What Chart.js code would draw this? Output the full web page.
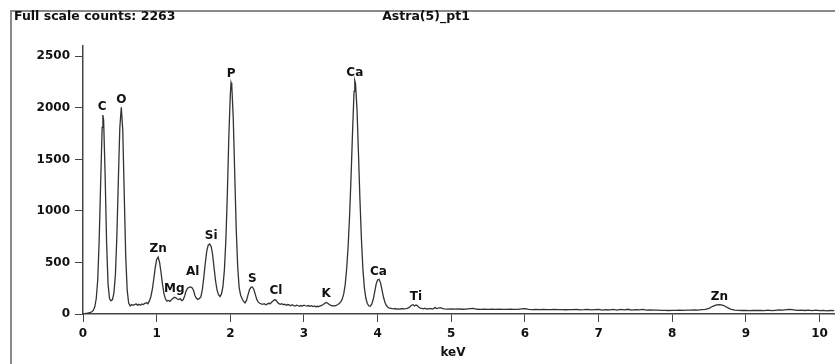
<!DOCTYPE html>
<html>
<head>
<meta charset="utf-8">
<script src="https://cdn.jsdelivr.net/npm/chart.js@4.4.1/dist/chart.umd.min.js"></script>
<style>
  html, body { margin: 0; padding: 0; background: #ffffff; }
  #wrap { position: relative; width: 835px; height: 364px; overflow: hidden; }
</style>
</head>
<body>
<div id="wrap"><canvas id="c" width="835" height="364"></canvas></div>
<script>
// ---- data ----
const headerLeft = 'Full scale counts: 2263';
const headerTitle = 'Astra(5)_pt1';
const xAxisTitle = 'keV';

const xTickValues = [0, 1, 2, 3, 4, 5, 6, 7, 8, 9, 10];
const yTickValues = [0, 500, 1000, 1500, 2000, 2500];

const energies = [
  0.00,0.02,0.04,0.06,0.08,0.10,0.12,0.14,0.16,0.18,
  0.20,0.22,0.24,0.26,0.27,0.28,0.30,0.32,0.34,0.36,
  0.38,0.40,0.42,0.44,0.46,0.48,0.50,0.52,0.54,0.56,
  0.58,0.60,0.62,0.64,0.66,0.68,0.70,0.72,0.74,0.76,
  0.78,0.80,0.82,0.84,0.86,0.88,0.90,0.92,0.94,0.96,
  0.98,1.00,1.02,1.04,1.06,1.08,1.10,1.12,1.14,1.16,
  1.18,1.20,1.22,1.24,1.26,1.28,1.30,1.32,1.34,1.36,
  1.38,1.40,1.42,1.44,1.46,1.48,1.50,1.52,1.54,1.56,
  1.58,1.60,1.62,1.64,1.66,1.68,1.70,1.72,1.74,1.76,
  1.78,1.80,1.82,1.84,1.86,1.88,1.90,1.92,1.94,1.96,
  1.98,2.00,2.01,2.02,2.04,2.06,2.08,2.10,2.12,2.14,
  2.16,2.18,2.20,2.22,2.24,2.26,2.28,2.30,2.32,2.34,
  2.36,2.38,2.40,2.42,2.44,2.46,2.48,2.50,2.52,2.54,
  2.56,2.58,2.60,2.62,2.64,2.66,2.68,2.70,2.72,2.74,
  2.76,2.78,2.80,2.82,2.84,2.86,2.88,2.90,2.92,2.94,
  2.96,2.98,3.00,3.02,3.04,3.06,3.08,3.10,3.12,3.14,
  3.16,3.18,3.20,3.22,3.24,3.26,3.28,3.30,3.32,3.34,
  3.36,3.38,3.40,3.42,3.44,3.46,3.48,3.50,3.52,3.54,
  3.56,3.58,3.60,3.62,3.64,3.66,3.68,3.69,3.70,3.72,
  3.74,3.76,3.78,3.80,3.82,3.84,3.86,3.88,3.90,3.92,
  3.94,3.96,3.98,4.00,4.02,4.04,4.06,4.08,4.10,4.12,
  4.14,4.16,4.18,4.20,4.22,4.24,4.26,4.28,4.30,4.32,
  4.34,4.36,4.38,4.40,4.42,4.44,4.46,4.48,4.50,4.52,
  4.54,4.56,4.58,4.60,4.62,4.64,4.66,4.68,4.70,4.72,
  4.74,4.76,4.78,4.80,4.85,4.90,4.95,5.00,5.05,5.10,
  5.15,5.20,5.25,5.30,5.35,5.40,5.45,5.50,5.55,5.60,
  5.65,5.70,5.75,5.80,5.85,5.90,5.95,6.00,6.05,6.10,
  6.15,6.20,6.25,6.30,6.35,6.40,6.45,6.50,6.55,6.60,
  6.65,6.70,6.75,6.80,6.85,6.90,6.95,7.00,7.05,7.10,
  7.15,7.20,7.25,7.30,7.35,7.40,7.45,7.50,7.55,7.60,
  7.65,7.70,7.75,7.80,7.85,7.90,7.95,8.00,8.05,8.10,
  8.15,8.20,8.25,8.30,8.35,8.40,8.45,8.50,8.55,8.60,
  8.65,8.70,8.75,8.80,8.85,8.90,8.95,9.00,9.05,9.10,
  9.15,9.20,9.25,9.30,9.35,9.40,9.45,9.50,9.55,9.60,
  9.65,9.70,9.75,9.80,9.85,9.90,9.95,10.00,10.05,10.10,
  10.15,10.20
];

const counts = [
  3,4,6,8,12,15,22,35,70,150,
  330,720,1280,1810,1930,1880,1360,700,290,150,
  128,140,205,380,760,1300,1810,2005,1780,1160,
  560,230,105,78,92,84,90,98,86,94,
  85,98,92,104,110,100,125,165,235,335,
  445,530,552,500,400,285,195,145,125,132,
  122,138,150,162,158,145,140,150,130,138,
  175,225,250,258,262,255,230,180,152,142,
  150,165,235,355,490,610,668,680,655,575,
  445,320,232,188,170,195,265,430,720,1170,
  1720,2130,2244,2215,1900,1360,830,460,255,182,
  150,122,108,132,185,235,258,262,238,188,
  140,115,104,98,94,100,90,96,104,100,
  114,126,138,134,114,100,94,100,90,95,
  85,92,88,80,90,82,78,85,80,75,
  82,78,85,80,76,82,75,80,72,78,
  70,75,72,78,84,92,102,112,106,94,
  85,80,78,80,84,92,102,118,145,195,
  285,440,660,960,1340,1770,2160,2263,2235,1990,
  1560,1110,730,440,255,155,102,80,76,96,
  140,212,290,330,336,302,232,162,112,82,
  66,58,55,52,50,53,48,50,48,51,
  53,50,52,55,60,70,85,90,78,88,
  82,65,58,55,50,56,48,52,50,55,
  48,52,64,52,62,50,48,50,47,50,
  46,48,52,55,46,45,47,45,46,44,
  46,45,44,46,45,44,50,52,44,43,
  45,42,44,43,42,44,42,43,41,43,
  42,44,40,42,45,40,42,44,38,42,
  40,45,38,44,40,46,38,42,40,45,
  38,40,37,38,35,36,34,35,36,38,
  36,38,37,40,38,42,45,55,75,88,
  90,82,62,45,38,36,34,36,33,35,
  34,36,33,38,32,36,40,38,42,44,
  40,36,38,34,37,33,38,32,35,30,
  34,32
];

// element peak labels: name, energy (keV), label height (counts)
const peakNames    = ['C', 'O', 'Zn', 'Mg', 'Al', 'Si', 'P', 'S', 'Cl', 'K', 'Ca', 'Ca', 'Ti', 'Zn'];
const peakEnergies = [0.26, 0.52, 1.02, 1.24, 1.49, 1.74, 2.01, 2.30, 2.62, 3.30, 3.69, 4.01, 4.52, 8.64];
const peakLabelCounts = [2005, 2075, 630, 240, 405, 760, 2330, 345, 220, 200, 2340, 410, 165, 165];

// ---- chart ----
const FONT = 'DejaVu Sans';
const boldFont = { family: FONT, size: 12, weight: 'bold' };

const framePlugin = {
  id: 'frame',
  beforeDraw(chart) {
    const ctx = chart.ctx;
    ctx.save();
    ctx.fillStyle = '#ffffff';
    ctx.fillRect(0, 0, chart.width, chart.height);
    ctx.strokeStyle = '#8a8a8a';
    ctx.lineWidth = 2;
    ctx.beginPath();
    ctx.moveTo(11, chart.height + 2);
    ctx.lineTo(11, 11);
    ctx.lineTo(chart.width + 2, 11);
    ctx.stroke();
    ctx.restore();
  },
  afterDraw(chart) {
    const ctx = chart.ctx;
    const xs = chart.scales.x, ys = chart.scales.y;
    ctx.save();
    ctx.fillStyle = '#111111';
    ctx.textBaseline = 'middle';
    ctx.font = 'bold 12.5px "' + FONT + '"';
    ctx.textAlign = 'left';
    ctx.fillText(headerLeft, 14, 17);
    ctx.textAlign = 'center';
    ctx.fillText(headerTitle, 426, 17);
    ctx.font = 'bold 12px "' + FONT + '"';
    ctx.fillText(xAxisTitle, 453, 353);
    for (let i = 0; i < peakNames.length; i++) {
      const px = xs.getPixelForValue(peakEnergies[i]);
      const py = ys.getPixelForValue(peakLabelCounts[i]);
      ctx.fillText(peakNames[i], px, py);
    }
    ctx.restore();
  }
};

new Chart(document.getElementById('c'), {
  type: 'line',
  data: {
    datasets: [{
      data: energies.map((e, i) => ({ x: e, y: counts[i] })),
      borderColor: '#333333',
      borderWidth: 1.3,
      pointRadius: 0,
      tension: 0,
      fill: false
    }]
  },
  options: {
    responsive: false,
    animation: false,
    events: [],
    layout: { padding: { top: 46, right: 0, bottom: 0, left: 0 } },
    plugins: { legend: { display: false }, tooltip: { enabled: false }, title: { display: false } },
    scales: {
      x: {
        type: 'linear',
        min: 0,
        max: 10.21,
        afterBuildTicks: s => { s.ticks = xTickValues.map(v => ({ value: v })); },
        afterFit: s => { s.height = 50; },
        grid: { drawOnChartArea: false, drawTicks: true, tickLength: 8, color: '#444444', lineWidth: 1 },
        border: { display: true, color: '#444444', width: 1.5 },
        ticks: { font: boldFont, color: '#111111', padding: 5, maxRotation: 0, autoSkip: false, callback: v => String(v) },
        title: { display: false }
      },
      y: {
        min: 0,
        max: 2600,
        afterBuildTicks: s => { s.ticks = yTickValues.map(v => ({ value: v })); },
        afterFit: s => { s.width = 83; },
        grid: { drawOnChartArea: false, drawTicks: true, tickLength: 8, color: '#444444', lineWidth: 1 },
        border: { display: true, color: '#444444', width: 1.5 },
        ticks: { font: boldFont, color: '#111111', padding: 5, autoSkip: false, callback: v => String(v) }
      }
    }
  },
  plugins: [framePlugin]
});
</script>
</body>
</html>
